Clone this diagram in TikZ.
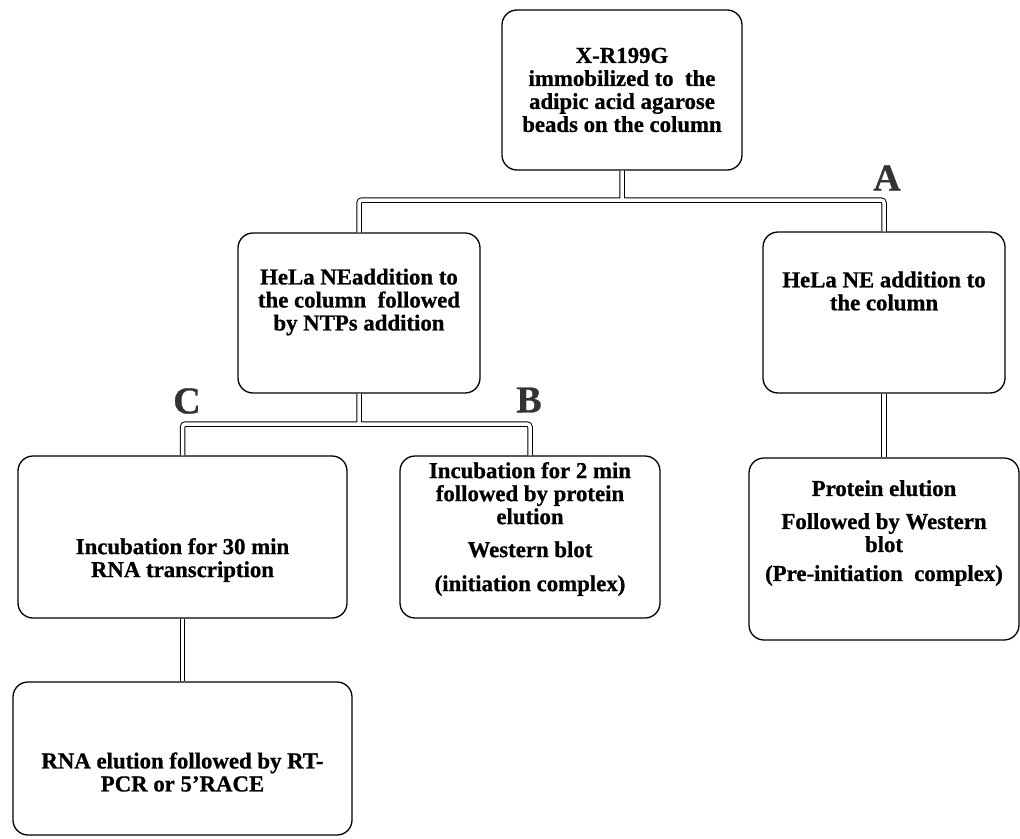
\documentclass[tikz,border=0pt]{standalone}
\usepackage{fontspec}
\setmainfont{Liberation Serif}[BoldFeatures={FakeBold=0.8}]
\usepackage{tikz}

\tikzset{
  box/.style={draw, rounded corners=15pt, line width=1.3pt, inner sep=0pt},
  txt/.style={align=center, inner sep=0pt, font=\fontsize{22.8}{23}\selectfont\bfseries},
  link/.style={double, double distance=3.5pt, line width=1pt, rounded corners=3pt},
  tag/.style={font=\fontsize{38}{40}\selectfont\bfseries, text=black!80}
}

\begin{document}
\begin{tikzpicture}[x=1pt, y=-1pt]
  \useasboundingbox (0,0) rectangle (1020,838);
  % Nodes
  % boxes
  \node[box, minimum width=240pt, minimum height=160pt] (T) at (622,90) {};
  \node[box, minimum width=242pt, minimum height=160pt] (N1) at (359,313) {};
  \node[box, minimum width=242pt, minimum height=161pt] (N2) at (884,312.5) {};
  \node[box, minimum width=329pt, minimum height=162pt] (P1) at (182.5,537) {};
  \node[box, minimum width=260pt, minimum height=162pt] (P2) at (530,537) {};
  \node[box, minimum width=270pt, minimum height=182pt] (P3) at (884,549) {};
  \node[box, minimum width=339pt, minimum height=153pt] (R1) at (182.5,758.5) {};
  % texts
  \node[txt] (Tt) at (622,90) {X-R199G\\immobilized to\ \ the\\adipic acid agarose\\beads on the column};
  \node[txt] (N1t) at (359,302) {HeLa NEaddition to\\the column\ \ followed\\by NTPs addition};
  \node[txt] (N2t) at (884,291) {HeLa NE addition to\\the column};
  \node[txt] (P1t) at (182.5,560) {Incubation for 30 min\\RNA transcription};
  \node[txt] (P2t) at (530,529) {Incubation for 2 min\\followed by protein\\elution\\[10pt]Western blot\\[11pt](initiation complex)};
  \node[txt] (P3t) at (884,533) {Protein elution\\[10pt]Followed by Western\\blot\\[6pt](Pre-initiation\ \ complex)};
  \node[txt] (R1t) at (182.5,772) {RNA elution followed by RT-\\PCR or 5'RACE};
  % branch points
  \coordinate (J1) at (622,200);
  \coordinate (J2) at (359,424);
  % letters
  \node[tag] (A) at (887,178) {A};
  \node[tag] (B) at (529,400) {B};
  \node[tag] (C) at (187,401) {C};
  % links
  \draw[link] (N1.north) |- (J1) -| (N2.north) (T.south) -- (J1);
  \draw[link] (P1.north) |- (J2) -| (P2.north) (N1.south) -- (J2);
  \draw[link] (N2.south) -- (P3.north);
  \draw[link] (P1.south) -- (R1.north);
\end{tikzpicture}
\end{document}
